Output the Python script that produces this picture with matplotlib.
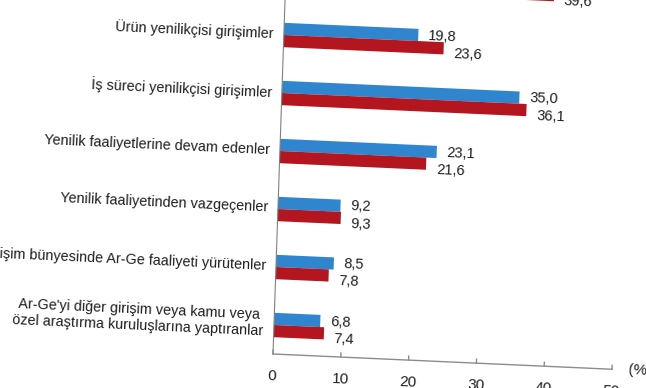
import numpy as np
import matplotlib.pyplot as plt
from matplotlib.transforms import Affine2D

# Data (blue = earlier period, red = later period)
categories = [
    "Yenilikçi girişimler",
    "Ürün yenilikçisi girişimler",
    "İş süreci yenilikçisi girişimler",
    "Yenilik faaliyetlerine devam edenler",
    "Yenilik faaliyetinden vazgeçenler",
    "Girişim bünyesinde Ar-Ge faaliyeti yürütenler",
    "Ar-Ge'yi diğer girişim veya kamu veya\nözel araştırma kuruluşlarına yaptıranlar",
]
values_blue = [37.6, 19.8, 35.0, 23.1, 9.2, 8.5, 6.8]
values_red = [39.6, 23.6, 36.1, 21.6, 9.3, 7.8, 7.4]
labels_blue = ["37,6", "19,8", "35,0", "23,1", "9,2", "8,5", "6,8"]
labels_red = ["39,6", "23,6", "36,1", "21,6", "9,3", "7,8", "7,4"]
x_ticks = [0, 10, 20, 30, 40, 50]

blue = "#2f86cf"
red = "#b3161e"
txt = "#1f1f1f"
fnt = ["Liberation Sans", "DejaVu Sans"]

fig = plt.figure(figsize=(6.46, 3.88), dpi=100)
ax = fig.add_axes([273 / 646, 34 / 388, 339 / 646, 406 / 388])
ax.set_xlim(0, 50)
ax.set_ylim(6.5, -0.5)
ax.axis("off")

# the scanned chart is slightly skewed: reproduce it in display pixels
kx, s = 0.034, 0.045
skew = Affine2D(np.array([[1, kx, -kx * 34], [-s, 1, s * 273], [0, 0, 1]]))
tr = ax.transData + skew
rot = -np.degrees(np.arctan(s))

y = np.arange(len(categories))
bb = ax.barh(y - 0.105, values_blue, height=0.21, color=blue)
br = ax.barh(y + 0.105, values_red, height=0.21, color=red)
for p in list(bb) + list(br):
    p.set_transform(tr)
    p.set_clip_on(False)

for i in range(len(categories)):
    ax.text(-1.5, i - 0.015, categories[i], ha="right", va="center",
            multialignment="center", fontsize=10.4, color=txt, family=fnt,
            transform=tr, rotation=rot, rotation_mode="anchor", clip_on=False)
    ax.text(values_blue[i] + 1.5, i - 0.1, labels_blue[i], ha="left",
            va="center", fontsize=10.5, color=txt, family=fnt,
            transform=tr, rotation=rot, rotation_mode="anchor", clip_on=False)
    ax.text(values_red[i] + 1.5, i + 0.2, labels_red[i], ha="left",
            va="center", fontsize=10.5, color=txt, family=fnt,
            transform=tr, rotation=rot, rotation_mode="anchor", clip_on=False)

# axes lines
ax.plot([0, 0], [-0.5, 6.5], color="#808080", lw=0.8, transform=tr, clip_on=False)
ax.plot([0, 50], [6.5, 6.5], color="#8c8c8c", lw=1, transform=tr, clip_on=False)
for t in x_ticks:
    ax.plot([t, t], [6.5, 6.5 - 4 / 58], color="#8c8c8c", lw=1,
            transform=tr, clip_on=False)
    ax.text(t, 6.5 + 22 / 58, str(t), ha="center", va="center", fontsize=11,
            color=txt, family=fnt, transform=tr, rotation=rot,
            rotation_mode="anchor", clip_on=False)
ax.text(52.4, 6.5, "(%)", ha="left", va="center", fontsize=11, color=txt,
        family=fnt, transform=tr, rotation=rot, rotation_mode="anchor",
        clip_on=False)

fig.savefig("out.png", dpi=100)
